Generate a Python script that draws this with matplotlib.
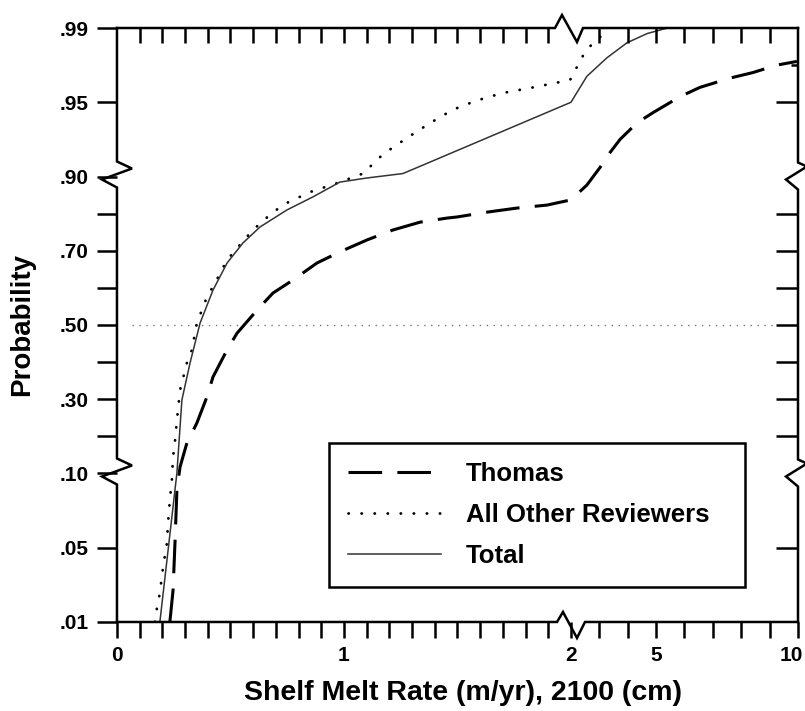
import numpy as np
import matplotlib.pyplot as plt
from matplotlib.transforms import ScaledTranslation

# broken axes: each piece of the axis gets its own linear stretch
x_knots = [0, 2, 10]
x_pos = [0, 454, 681]
y_knots = [.01, .05, .10, .90, .95, .99]
y_pos = [0, 1, 2, 6, 7, 8]

# curves (melt rate m/yr, cumulative probability)
thomas_x = [0.233, 0.247, 0.256, 0.264, 0.278, 0.308, 0.352, 0.396, 0.423, 0.485,
            0.529, 0.617, 0.687, 0.775, 0.881, 0.982, 1.101, 1.216, 1.335, 1.454,
            1.498, 1.630, 1.762, 1.894, 2.0, 2.56, 3.02, 3.37, 3.73, 4.32, 4.89,
            5.84, 6.54, 7.60, 8.41, 9.25, 9.96]
thomas_p = [.010, .027, .055, .089, .118, .182, .236, .306, .360, .433,
            .478, .540, .586, .621, .667, .697, .729, .756, .777, .788,
            .791, .804, .815, .823, .837, .877, .906, .916, .925, .936, .943,
            .953, .958, .963, .966, .970, .972]

others_x = [0.167, 0.176, 0.189, 0.203, 0.220, 0.225, 0.233, 0.242, 0.247, 0.256,
            0.264, 0.278, 0.308, 0.330, 0.352, 0.396, 0.432, 0.485, 0.529, 0.599,
            0.687, 0.749, 0.850, 0.969, 1.084, 1.172, 1.278, 1.379, 1.480, 1.586,
            1.700, 1.833, 1.996, 2.21, 2.42, 2.77, 3.02, 3.27]
others_p = [.010, .0175, .0256, .0396, .053, .067, .082, .096, .144, .190,
            .244, .325, .398, .433, .505, .575, .613, .675, .707, .756,
            .804, .829, .858, .882, .902, .915, .926, .936, .945, .951,
            .955, .958, .962, .969, .975, .982, .985, .990]

total_x = [0.189, 0.264, 0.286, 0.322, 0.366, 0.423, 0.485, 0.555, 0.630, 0.749,
           0.863, 0.982, 1.101, 1.260, 2.0, 2.56, 3.27, 3.97, 4.68, 5.4]
total_p = [.010, .101, .298, .398, .505, .594, .667, .721, .764, .810,
           .845, .885, .896, .902, .950, .964, .974, .982, .987, .990]

y_major = [.01, .05, .10, .30, .50, .70, .90, .95, .99]
y_labels = ['.01', '.05', '.10', '.30', '.50', '.70', '.90', '.95', '.99']
y_minor = [.20, .40, .60, .80]
x_major = [0, 1, 2, 5, 10]
x_labels = ['0', '1', '2', '5', '10']
x_minor = [.1, .2, .3, .4, .5, .6, .7, .8, .9, 1.1, 1.2, 1.3, 1.4, 1.5, 1.6,
           1.7, 1.8, 1.9, 3, 4, 6, 7, 8, 9]


def fx(v):
    return np.interp(v, x_knots, x_pos)


def fxi(v):
    return np.interp(v, x_pos, x_knots)


def fy(v):
    return np.interp(v, y_knots, y_pos)


def fyi(v):
    return np.interp(v, y_pos, y_knots)


plt.rcParams['font.family'] = ['Liberation Sans', 'DejaVu Sans']
plt.rcParams['font.weight'] = 'bold'

fig = plt.figure(figsize=(8.05, 7.11), dpi=100)
ax = fig.add_axes([0.1453, 0.1252, 0.846, 0.8354])
ax.set_xscale('function', functions=(fx, fxi))
ax.set_yscale('function', functions=(fy, fyi))
ax.set_xlim(0, 10)
ax.set_ylim(.01, .99)

ax.hlines(0.5, 0.066, 9.5, colors='#777777', linewidth=1.0,
          linestyles=(0, (1, 4)))
ax.plot(thomas_x, thomas_p, color='black', lw=2.2, dashes=(11, 5),
        label='Thomas')
ax.plot(others_x, others_p, color='black', lw=2.0, dashes=(0.1, 4.6),
        dash_capstyle='round', label='All Other Reviewers')
ax.plot(total_x, total_p, color='#333333', lw=1.1, label='Total')

leg = ax.legend(loc='lower left', bbox_to_anchor=(0.311, 0.059, 0.611, 0.246),
                mode='expand', fontsize=18.5, handlelength=3.6, handletextpad=1.0,
                borderpad=0.75, labelspacing=0.65, fancybox=False, framealpha=1,
                borderaxespad=0)
leg.get_frame().set_edgecolor('black')
leg.get_frame().set_linewidth(1.8)

for s in ax.spines.values():
    s.set_visible(False)

# ticks: bottom/left outward, top/right inward
ax.set_xticks(x_major)
ax.set_xticklabels(x_labels)
ax.set_xticks(x_minor, minor=True)
ax.set_yticks(y_major)
ax.set_yticklabels(y_labels)
ax.set_yticks(y_minor, minor=True)
ax.tick_params(axis='x', which='both', direction='out', length=11.5, width=1.8,
               labelsize=15, pad=6)
ax.tick_params(axis='y', which='both', direction='out', length=14.4, width=1.8,
               labelsize=15, pad=6)
ax.xaxis.get_major_ticks()[2].tick1line.set_visible(False)
last = ax.get_xticklabels()[-1]
last.set_transform(last.get_transform() + ScaledTranslation(-5 / 72, 0, fig.dpi_scale_trans))

axr = ax.twinx()
axr.set_yscale('function', functions=(fy, fyi))
axr.set_ylim(.01, .99)
axr.set_yticks([.05, .20, .30, .40, .50, .60, .70, .80, .95])
axr.set_yticks([.97], minor=True)
axr.tick_params(axis='y', which='major', direction='in', length=16, width=1.8,
                labelright=False)
axr.tick_params(axis='y', which='minor', direction='in', length=5, width=1.8,
                labelright=False)

axt = ax.twiny()
axt.set_xscale('function', functions=(fx, fxi))
axt.set_xlim(0, 10)
axt.set_xticks([t for t in x_minor] + [1, 5])
axt.tick_params(axis='x', which='major', direction='in', length=10.8, width=1.8,
                labeltop=False)
for a in (axr, axt):
    for s in a.spines.values():
        s.set_visible(False)

# hand drawn frame with zigzag breaks
W = 0.846 * 805
H = 0.8354 * 711
bx = (fx(2) - fx(0)) / (fx(10) - fx(0))
by1 = (fy(.10) - fy(.01)) / (fy(.99) - fy(.01))
by2 = (fy(.90) - fy(.01)) / (fy(.99) - fy(.01))
kw = dict(transform=ax.transAxes, color='black', lw=1.8, clip_on=False,
          solid_joinstyle='miter', zorder=5)

bot = [(-14, 0), (-8, 10), (6, -16), (14, 0)]
top = [(-16, 0), (-9, 13), (6, -14), (12, 0)]
left = [(0, -11), (-15, -3), (15, 8), (0, 15)]
right = [(0, -13), (-12, -3), (9, 10), (0, 14)]

xs = [0] + [bx + dx / W for dx, dy in bot] + [1]
ys = [0] + [dy / H for dx, dy in bot] + [0]
ax.plot(xs, ys, **kw)
xs = [0] + [bx + dx / W for dx, dy in top] + [1]
ys = [1] + [1 + dy / H for dx, dy in top] + [1]
ax.plot(xs, ys, **kw)
for x0, zz in ((0, left), (1, right)):
    xs = [x0] + [x0 + dx / W for dx, dy in zz] + [x0 + dx / W for dx, dy in zz] + [x0]
    ys = [0] + [by1 + dy / H for dx, dy in zz] + [by2 + dy / H for dx, dy in zz] + [1]
    ax.plot(xs, ys, **kw)

ax.set_xlabel('Shelf Melt Rate (m/yr), 2100 (cm)', fontsize=20.5, fontweight='bold',
              va='center')
ax.set_ylabel('Probability', fontsize=20, fontweight='bold', va='center')
ax.xaxis.set_label_coords(0.508, -0.1195)
ax.yaxis.set_label_coords(-0.1395, 0.5)

fig.savefig('out.png', dpi=100)
